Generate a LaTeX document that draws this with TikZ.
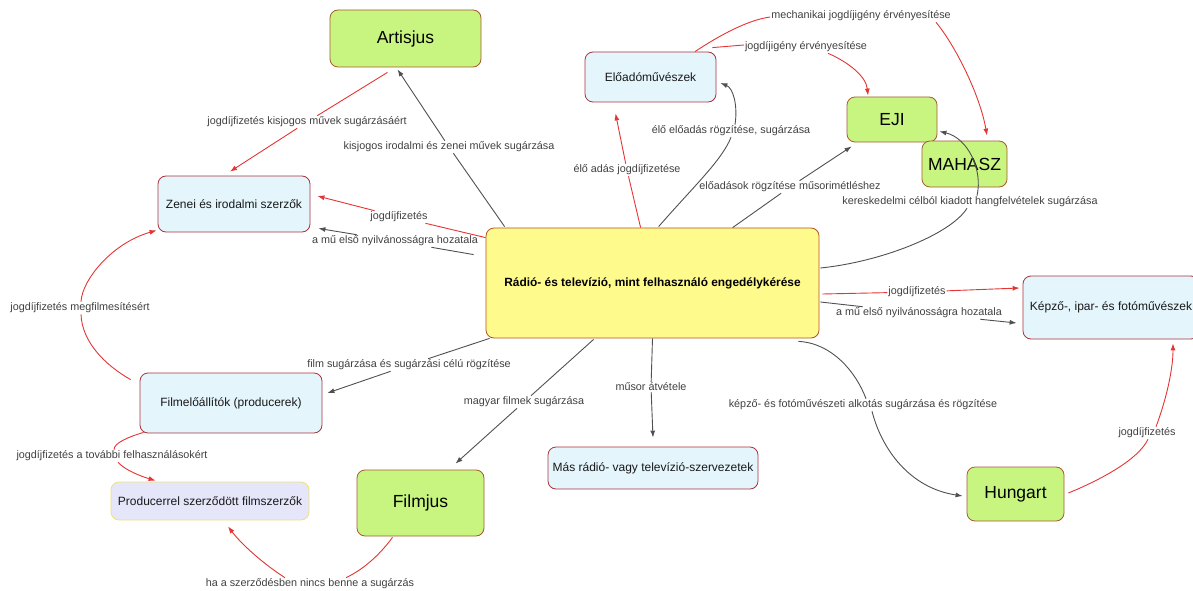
\documentclass[tikz,border=0pt]{standalone}
\usepackage{fontspec}
\setmainfont{Liberation Sans}
\usetikzlibrary{arrows.meta,calc}
\definecolor{gfill}{RGB}{200,245,128}
\definecolor{gdraw}{RGB}{165,90,50}
\definecolor{bfill}{RGB}{228,245,252}
\definecolor{bdraw}{RGB}{170,50,60}
\definecolor{yfill}{RGB}{255,250,140}
\definecolor{ydraw}{RGB}{180,80,40}
\definecolor{lfill}{RGB}{230,230,250}
\definecolor{ldraw}{RGB}{238,225,120}
\definecolor{redc}{RGB}{228,52,52}
\definecolor{grayc}{RGB}{80,80,80}
\definecolor{lblc}{RGB}{64,64,64}
\begin{document}
\begin{tikzpicture}[x=1pt,y=-1pt,
  cbox/.style={rounded corners=8pt, line width=0.8pt, inner sep=0pt, align=center, text=black!90, font=\fontsize{12}{14}\selectfont},
  gbox/.style={cbox, fill=gfill, draw=gdraw, text=black, font=\fontsize{17.5}{20}\selectfont},
  bbox/.style={cbox, fill=bfill, draw=bdraw},
  ybox/.style={cbox, fill=yfill, draw=ydraw, text=black, font=\fontsize{11.9}{14}\selectfont\bfseries},
  lbox/.style={cbox, fill=lfill, draw=ldraw},
  lbl/.style={inner sep=1pt, text=lblc, font=\fontsize{10.8}{13}\selectfont},
  rline/.style={draw=redc, line width=0.9pt, -{Latex[length=7pt,width=5pt]}},
  gline/.style={draw=grayc, line width=0.9pt, -{Latex[length=7pt,width=5pt]}}
]
\useasboundingbox (0,0) rectangle (1193,591);
% boxes
\node[gbox, minimum width=151pt, minimum height=57pt] (art) at (405.5,38.5) {Artisjus};
\node[bbox, minimum width=152pt, minimum height=56pt] (zen) at (234,204) {Zenei és irodalmi szerzők};
\node[bbox, minimum width=131pt, minimum height=50pt] (elo) at (650.5,77) {Előadóművészek};
\node[gbox, minimum width=90pt, minimum height=45pt] (eji) at (892,119.5) {EJI};
\node[gbox, minimum width=85pt, minimum height=46pt] (mah) at (964.5,164) {MAHASZ};
\node[ybox, minimum width=333pt, minimum height=110pt] (cen) at (652.5,283) {Rádió- és televízió, mint felhasználó engedélykérése};
\node[bbox, minimum width=176pt, minimum height=63pt] (kep) at (1111,307.5) {Képző-, ipar- és fotóművészek};
\node[bbox, minimum width=182pt, minimum height=60pt] (fil) at (231,403) {Filmelőállítók (producerek)};
\node[lbox, minimum width=198pt, minimum height=38pt] (pro) at (210,501) {Producerrel szerződött filmszerzők};
\node[gbox, minimum width=127pt, minimum height=66pt] (fjs) at (420.5,503) {Filmjus};
\node[bbox, minimum width=210pt, minimum height=42pt] (mas) at (653,468) {Más rádió- vagy televízió-szervezetek};
\node[gbox, minimum width=97pt, minimum height=54pt] (hun) at (1015.5,494) {Hungart};
% labels
\node[lbl] (L1) at (307,122) {jogdíjfizetés kisjogos művek sugárzásáért};
\node[lbl] (L2) at (449,147) {kisjogos irodalmi és zenei művek sugárzása};
\node[lbl] (L3) at (399,217) {jogdíjfizetés};
\node[lbl] (L4) at (395,241) {a mű első nyilvánosságra hozatala};
\node[lbl] (L5) at (80,308) {jogdíjfizetés megfilmesítésért};
\node[lbl] (L6) at (409,365) {film sugárzása és sugárzási célú rögzítése};
\node[lbl] (L7) at (524,402) {magyar filmek sugárzása};
\node[lbl] (L8) at (112,456) {jogdíjfizetés a további felhasználásokért};
\node[lbl] (L9) at (310,584) {ha a szerződésben nincs benne a sugárzás};
\node[lbl] (L10) at (627,170) {élő adás jogdíjfizetése};
\node[lbl] (L11) at (731,131) {élő előadás rögzítése, sugárzása};
\node[lbl] (L12) at (790,187) {előadások rögzítése műsorimétléshez};
\node[lbl] (L13) at (861,16) {mechanikai jogdíjigény érvényesítése};
\node[lbl] (L14) at (806,47) {jogdíjigény érvényesítése};
\node[lbl] (L15) at (970,202) {kereskedelmi célból kiadott hangfelvételek sugárzása};
\node[lbl] (L16) at (917,292) {jogdíjfizetés};
\node[lbl] (L17) at (919,313) {a mű első nyilvánosságra hozatala};
\node[lbl] (L18) at (651,387) {műsor átvétele};
\node[lbl] (L19) at (863,405) {képző- és fotóművészeti alkotás sugárzása és rögzítése};
\node[lbl] (L20) at (1147,433) {jogdíjfizetés};
% straight connectors
\draw[rline] ($(art.south)+(-18,5)$) -- (L1) -- ($(zen.north)+(-4,-4)$);
\draw[gline] ($(cen.north west)+(19,-1)$) -- (L2) -- ($(art.south)+(-8,2)$);
\draw[rline] ($(cen.north west)+(0,10)$) -- (L3) -- ($(zen.east)+(7,-8)$);
\draw[gline] ($(cen.north west)+(-12,27)$) -- (L4) -- ($(zen.south east)+(8,-4)$);
\draw[gline] ($(cen.south west)+(4,0)$) -- (L6) -- ($(fil.east)+(5,-10)$);
\draw[gline] ($(cen.south west)+(108,1)$) -- (L7) -- ($(fjs.north)+(35,-6)$);
\draw[rline] ($(cen.north west)+(155,0)$) -- (L10) -- ($(elo.south)+(-35,11)$);
\draw[gline] ($(cen.north west)+(247,0)$) -- (L12) -- ($(eji.south west)+(5,4)$);
\draw[rline] ($(cen.east)+(3,11)$) -- (L16) -- ($(kep.west)+(-3,-19.5)$);
\draw[gline] ($(cen.east)+(1,19)$) -- (L17) -- ($(kep.west)+(-6,15.5)$);
\draw[gline] (cen.south) -- (L18) -- ($(mas.north)+(0,-9)$);
% curved connectors
\draw[rline] ($(fil.north west)+(-9,7)$) .. controls (105,365) and (82,342) .. ($(L5.south)+(1,0)$)
  ($(L5.north)+(1,0)$) .. controls (82,280) and (112,243) .. ($(zen.south west)+(-1,-2)$);
\draw[rline] ($(fil.south west)+(4,-1)$) .. controls (128,437) and (114,443) .. ($(L8.north)+(2,0)$)
  ($(L8.south)+(6,0)$) .. controls (125,470) and (140,476) .. ($(pro.north west)+(45,-1)$);
\draw[rline] ($(fjs.south)+(-28,1)$) .. controls (378,557) and (362,570) .. ($(L9.north)+(36,0)$)
  ($(L9.north)+(-25,0)$) .. controls (265,565) and (242,545) .. ($(pro.south)+(18,6)$);
\draw[gline] ($(cen.north west)+(173,-1)$) .. controls (695,185) and (722,160) .. (L11.south)
  ($(L11.north)+(4,0)$) .. controls (738,105) and (733,88) .. ($(elo.east)+(4,6)$);
\draw[rline] ($(elo.north)+(44.5,0)$) .. controls (720,35) and (748,20) .. ($(L13.west)+(0,1)$)
  ($(L13.south east)+(-16,0)$) .. controls (955,45) and (980,95) .. ($(mah.north)+(22.5,-5)$);
\draw[rline] ($(elo.north east)+(-4,-4)$) -- ($(L14.west)+(0,-2)$)
  ($(L14.south)+(22,0)$) .. controls (848,62) and (866,76) .. ($(eji.north)+(-24,-1)$);
\draw[gline] ($(cen.east)+(1,-15)$) .. controls (880,262) and (950,235) .. ($(L15.south)+(-3,0)$)
  ($(L15.north)+(7,0)$) .. controls (983,170) and (968,138) .. ($(eji.south east)+(2,-11)$);
\draw[gline] ($(cen.south east)+(-21,3)$) .. controls (832,343) and (856,372) .. ($(L19.north)+(3,0)$)
  ($(L19.south)+(9,0)$) .. controls (882,450) and (910,488) .. ($(hun.west)+(-4,2)$);
\draw[rline] ($(hun.east)+(4,-1)$) .. controls (1100,480) and (1138,460) .. ($(L20.south)+(1,0)$)
  ($(L20.north)+(9,0)$) .. controls (1166,400) and (1173,370) .. ($(kep.south)+(62,4)$);
\end{tikzpicture}
\end{document}
